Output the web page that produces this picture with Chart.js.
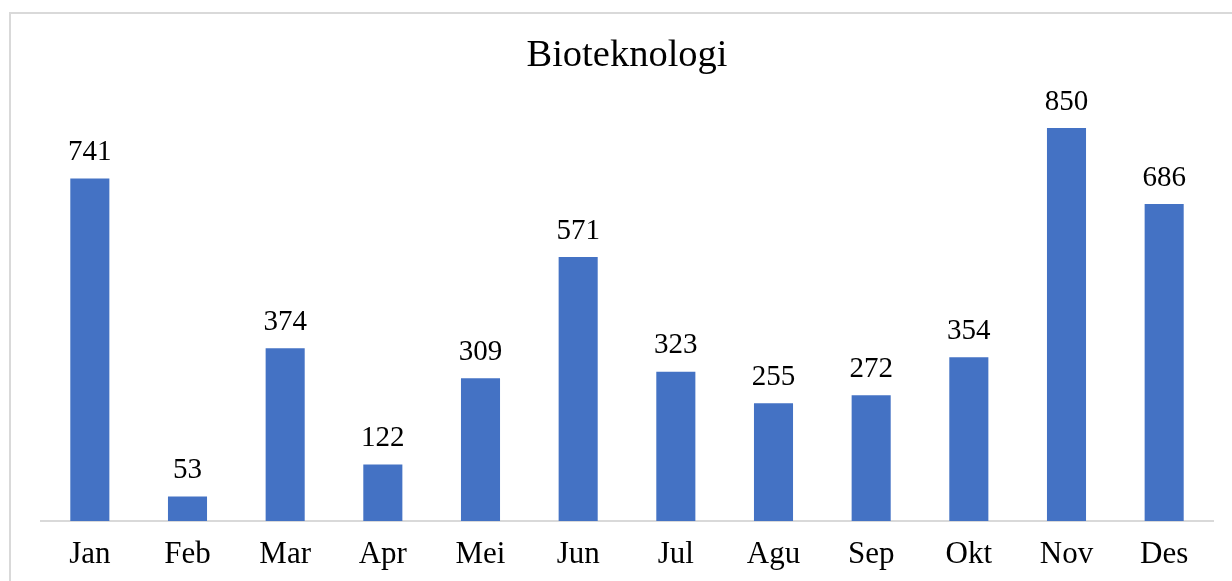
<!DOCTYPE html>
<html>
<head>
<meta charset="utf-8">
<script src="https://cdn.jsdelivr.net/npm/chart.js@4"></script>
<style>
  body { margin: 0; background: #fff; overflow: hidden; }
  #wrap { position: relative; width: 1232px; height: 581px; }
  #frame { position: absolute; left: 9px; top: 12px; width: 1300px; height: 700px; border: 2px solid #d9d9d9; }
  #bioChart { position: absolute; left: 0; top: 0; }
</style>
</head>
<body>
<div id="wrap">
  <div id="frame"></div>
  <canvas id="bioChart" width="1232" height="581"></canvas>
</div>
<script>
const chartTitle = "Bioteknologi";
const months = ["Jan", "Feb", "Mar", "Apr", "Mei", "Jun", "Jul", "Agu", "Sep", "Okt", "Nov", "Des"];
const counts = [741, 53, 374, 122, 309, 571, 323, 255, 272, 354, 850, 686];

const serif = "'Liberation Serif', 'Times New Roman', serif";

// draw the value above each bar
const valueLabels = {
  id: "valueLabels",
  afterDatasetsDraw(chart) {
    const ctx = chart.ctx;
    const meta = chart.getDatasetMeta(0);
    ctx.save();
    ctx.font = "29px " + serif;
    ctx.fillStyle = "#000";
    ctx.textAlign = "center";
    ctx.textBaseline = "middle";
    meta.data.forEach((bar, i) => {
      ctx.fillText(counts[i], bar.x, bar.y - 26);
    });
    ctx.restore();
  },
};

const bioChart = new Chart(document.getElementById("bioChart"), {
  type: "bar",
  data: {
    labels: months,
    datasets: [
      {
        label: chartTitle,
        data: counts,
        backgroundColor: "#4472C4",
        borderWidth: 0,
        categoryPercentage: 1,
        barPercentage: 0.4,
      },
    ],
  },
  options: {
    responsive: false,
    animation: false,
    layout: {
      padding: { left: 41, right: 19, top: 0, bottom: 0 },
    },
    plugins: {
      legend: { display: false },
      tooltip: { enabled: false },
      title: {
        display: true,
        text: chartTitle,
        color: "#000",
        font: { family: serif, size: 38.5, weight: "normal" },
        padding: { top: 32.5, bottom: 26.3 },
      },
    },
    scales: {
      y: {
        display: false,
        min: 0,
        max: 900,
      },
      x: {
        grid: { display: false, drawTicks: false },
        border: { color: "#d9d9d9", width: 2 },
        ticks: {
          color: "#000",
          padding: 15,
          font: { family: serif, size: 31 },
        },
        afterFit(scale) {
          scale.height = 60;
        },
      },
    },
  },
  plugins: [valueLabels],
});
</script>
</body>
</html>
